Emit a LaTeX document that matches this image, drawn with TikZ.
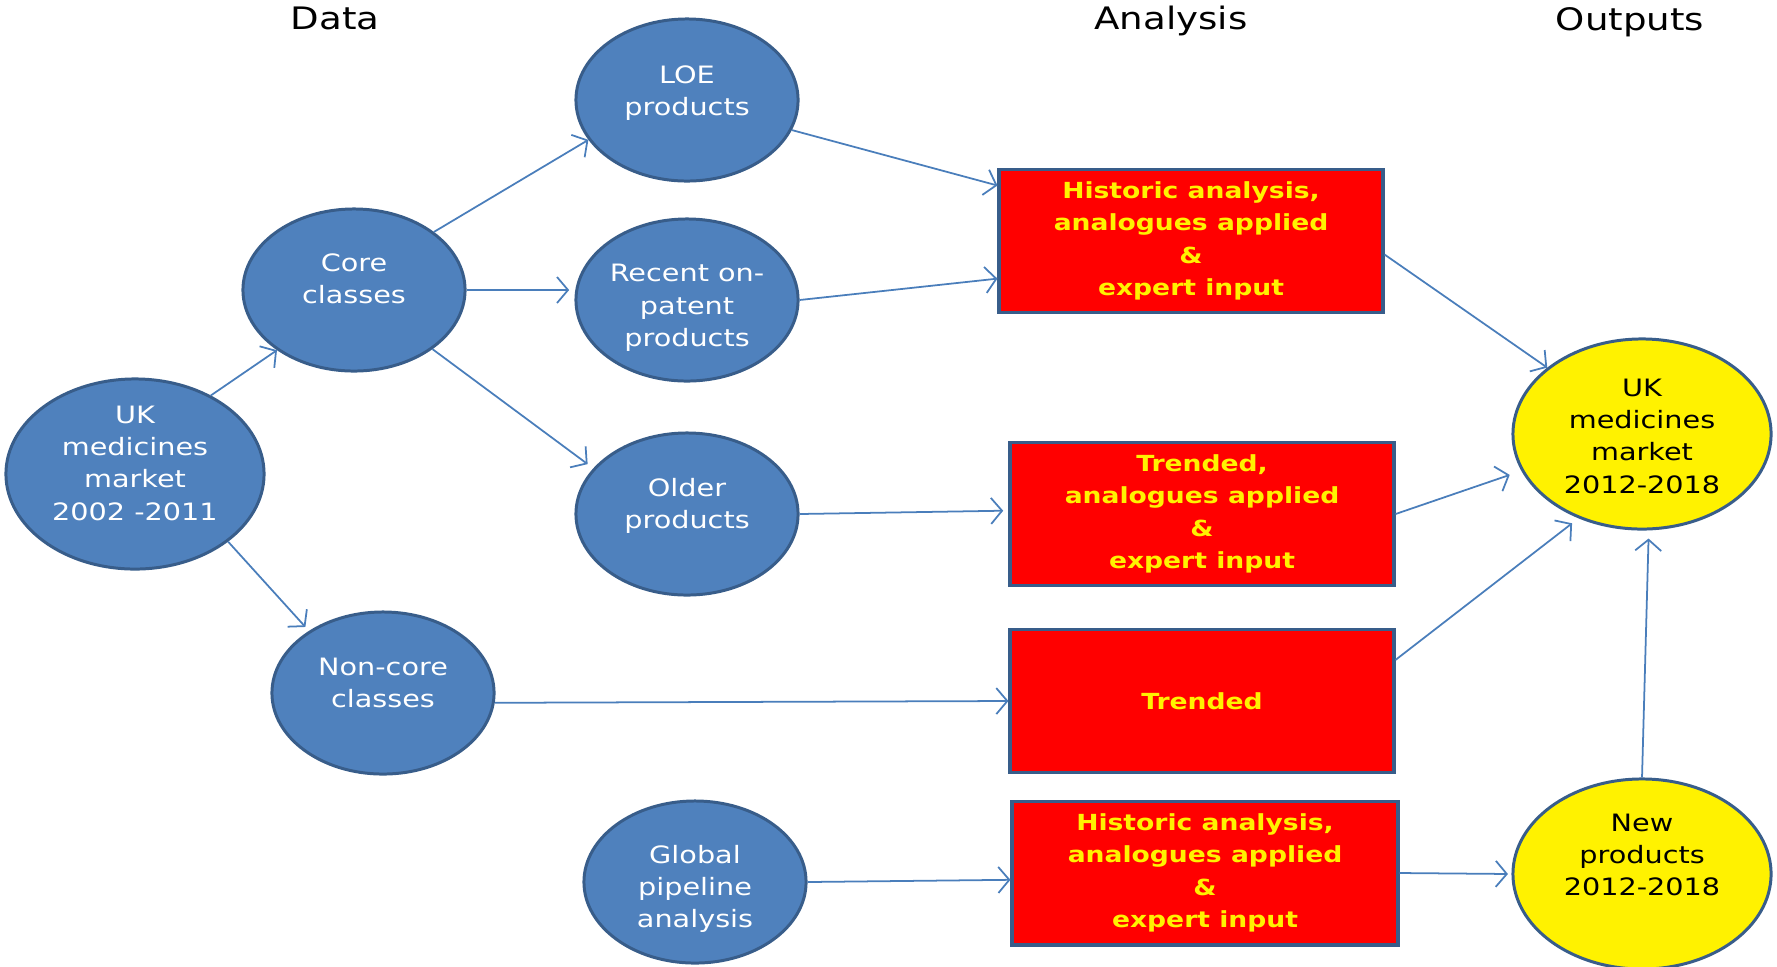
\documentclass[tikz,border=0pt]{standalone}
\usepackage{fontspec}
\setmainfont{DejaVu Sans}[FakeStretch=1.2]
\usetikzlibrary{shapes.geometric,arrows.meta}
\definecolor{ellblue}{RGB}{79,129,189}
\definecolor{edgeblue}{RGB}{56,93,138}
\definecolor{arrblue}{RGB}{74,126,187}

\begin{document}
\begin{tikzpicture}[x=0.01cm, y=-0.01cm,
    blob/.style={ellipse, draw=edgeblue, line width=0.85pt, fill=ellblue, inner sep=0pt,
        minimum width=2.22cm, minimum height=1.62cm},
    bigblob/.style={blob, minimum width=2.58cm, minimum height=1.9cm},
    outblob/.style={bigblob, fill=yellow},
    blobtext/.style={align=center, text=white, inner sep=0pt, font=\fontsize{6.8}{9.2}\selectfont},
    outtext/.style={blobtext, text=black},
    redbox/.style={rectangle, draw=edgeblue, line width=1.1pt, fill=red, text=yellow, align=center,
        minimum width=3.83cm, minimum height=1.43cm, font=\fontsize{6.3}{9.2}\selectfont\bfseries},
    head/.style={anchor=base, font=\fontsize{8.8}{10}\selectfont},
    arr/.style={draw=arrblue, line width=0.5pt, -{Straight Barb[length=1.1mm,width=2.6mm]}}]

    \useasboundingbox (0,0) rectangle (1777,966);

    % column titles
    \node[head] (data) at (335,29) {Data};
    \node[head] (analysis) at (1171,29.5) {Analysis};
    \node[head] (outputs) at (1630,30) {Outputs};

    % data
    \node[bigblob] (ukold) at (135,474) {};
    \node[blob] (core) at (354,290) {};
    \node[blob] (noncore) at (383,693) {};
    \node[blob] (loe) at (687,100) {};
    \node[blob] (recent) at (687,300) {};
    \node[blob] (older) at (687,514) {};
    \node[blob] (global) at (695,882) {};

    \node[blobtext] (ukoldtext) at ([yshift=0.11cm]ukold.center) {UK\\medicines\\market\\2002 -2011};
    \node[blobtext] (coretext) at ([yshift=0.11cm]core.center) {Core\\classes};
    \node[blobtext] (noncoretext) at ([yshift=0.1cm]noncore.center) {Non-core\\classes};
    \node[blobtext] (loetext) at ([yshift=0.07cm]loe.center) {LOE\\products};
    \node[blobtext] (recenttext) at ([yshift=-0.08cm]recent.center) {Recent on-\\patent\\products};
    \node[blobtext] (oldertext) at ([yshift=0.08cm]older.center) {Older\\products};
    \node[blobtext] (globaltext) at ([yshift=-0.07cm]global.center) {Global\\pipeline\\analysis};

    % analysis
    \node[redbox] (hist) at (1191,241) {Historic analysis,\\analogues applied\\\&\\expert input};
    \node[redbox] (trend) at (1202,514) {Trended,\\analogues applied\\\&\\expert input};
    \node[redbox] (trendonly) at (1202,701) {Trended};
    \node[redbox, minimum width=3.85cm] (pipe) at (1205,873) {Historic analysis,\\analogues applied\\\&\\expert input};

    % outputs
    \node[outblob] (uknew) at (1642,434) {};
    \node[outblob] (new) at (1642,874) {};
    \node[outtext] (uknewtext) at ([yshift=-0.02cm]uknew.center) {UK\\medicines\\market\\2012-2018};
    \node[outtext] (newtext) at ([yshift=0.19cm]new.center) {New\\products\\2012-2018};

    % connectors
    \draw[arr] (ukold.46) -- (core.218);
    \draw[arr, shorten >=1.5pt] (ukold.-36) -- (noncore.140);
    \draw[arr] (core.36) -- (loe.202);
    \draw[arr, shorten >=1.5pt] (core.east) -- (core.east -| recent.west);
    \draw[arr, shorten >=2pt] (core.-37) -- (older.154);
    \draw[arr] (loe.-16) -- (hist.164);
    \draw[arr] (recent.east) -- (hist.191);
    \draw[arr, shorten >=1.5pt] (older.east) -- (trend.179);
    \draw[arr] (noncore.-5) -- (trendonly.west);
    \draw[arr] (global.east) -- (pipe.182);
    \draw[arr] (hist.-4) -- (uknew.145);
    \draw[arr, shorten >=3.5pt] (trend.east) -- (uknew.197);
    \draw[arr, shorten >=2.3pt] (trendonly.12.6) -- (uknew.233);
    \draw[arr, shorten >=1pt] (pipe.east) -- (new.west);
    \draw[arr, shorten >=2.3pt] (new.north) -- (uknew.-86);

\end{tikzpicture}
\end{document}
